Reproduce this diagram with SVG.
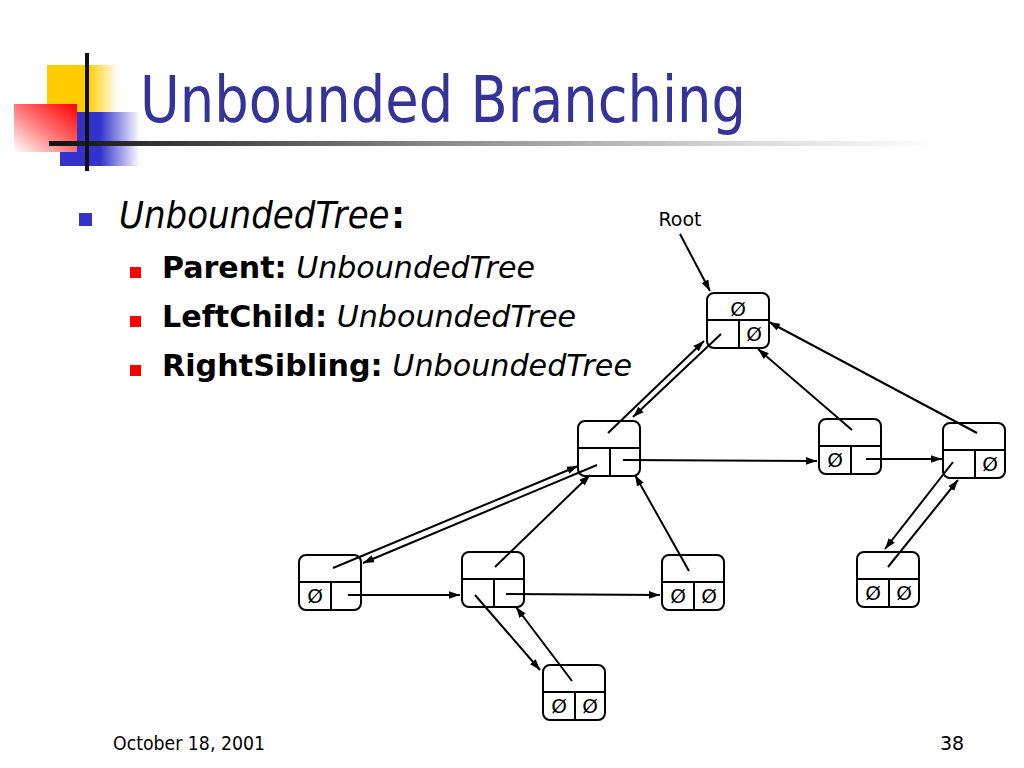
<svg xmlns="http://www.w3.org/2000/svg" width="1024" height="768" viewBox="0 0 1024 768">
<defs>
  <linearGradient id="gY" x1="0" y1="0" x2="1" y2="0">
    <stop offset="0" stop-color="#FFCC00"/>
    <stop offset="0.58" stop-color="#FFCC00"/>
    <stop offset="1" stop-color="#FFCC00" stop-opacity="0"/>
  </linearGradient>
  <linearGradient id="gB" x1="0" y1="0" x2="1" y2="0">
    <stop offset="0" stop-color="#3333CC"/>
    <stop offset="0.5" stop-color="#3333CC"/>
    <stop offset="1" stop-color="#3333CC" stop-opacity="0"/>
  </linearGradient>
  <linearGradient id="gR" x1="1" y1="0" x2="0" y2="1">
    <stop offset="0" stop-color="#FF0000"/>
    <stop offset="0.45" stop-color="#FF6666"/>
    <stop offset="1" stop-color="#FFFFFF"/>
  </linearGradient>
  <linearGradient id="gL" x1="0" y1="0" x2="1" y2="0">
    <stop offset="0" stop-color="#111111"/>
    <stop offset="0.12" stop-color="#333333"/>
    <stop offset="0.5" stop-color="#999999"/>
    <stop offset="0.8" stop-color="#DDDDDD"/>
    <stop offset="1" stop-color="#FFFFFF"/>
  </linearGradient>
  <marker id="arr" viewBox="0 0 10 7" refX="10" refY="3.5" markerWidth="11" markerHeight="8" markerUnits="userSpaceOnUse" orient="auto">
    <path d="M0,0 L10,3.5 L0,7 z" fill="#000"/>
  </marker>
  <g id="nodebox">
    <rect x="0" y="0" width="62" height="55" rx="7" ry="7" class="box"/>
    <line x1="0" y1="27" x2="62" y2="27" class="box"/>
    <line x1="32" y1="27" x2="32" y2="55" class="box"/>
  </g>
</defs>
<style>
  .box { fill: none; stroke: #000; stroke-width: 2; }
  .nul { font-family: "DejaVu Sans", "Liberation Sans", sans-serif; font-size: 20px; fill: #000; text-anchor: middle; }
  .conn line { stroke: #000; stroke-width: 2; marker-end: url(#arr); }
  .title { font-family: "DejaVu Sans", "Liberation Sans", sans-serif; font-size: 64px; fill: #333399; }
  .b1 { font-family: "DejaVu Sans", "Liberation Sans", sans-serif; font-size: 38px; fill: #000; }
  .b2 { font-family: "DejaVu Sans", "Liberation Sans", sans-serif; font-size: 30px; fill: #000; }
  .lab { font-family: "DejaVu Sans", "Liberation Sans", sans-serif; font-size: 19px; fill: #000; }
  .it { font-style: italic; font-weight: normal; }
  .bd { font-weight: bold; font-style: normal; }
</style>
<rect x="0" y="0" width="1024" height="768" fill="#FFFFFF"/>

<!-- Logo and title -->
<g id="logo">
  <rect x="47" y="65" width="71" height="47" fill="url(#gY)"/>
  <rect x="60" y="112" width="80" height="54" fill="url(#gB)"/>
  <rect x="14" y="104" width="63" height="48" fill="url(#gR)"/>
  <rect x="49" y="141" width="891" height="5" fill="url(#gL)"/>
  <rect x="85" y="53" width="4" height="118" fill="#111111"/>
</g>
<text id="title" class="title" x="140" y="122" textLength="606" lengthAdjust="spacingAndGlyphs">Unbounded Branching</text>

<!-- Bullets -->
<g id="bullets">
  <rect x="79" y="213" width="13" height="13" fill="#3333CC"/>
  <text class="b1" x="119" y="228" textLength="286" lengthAdjust="spacingAndGlyphs"><tspan class="it">UnboundedTree</tspan><tspan class="bd" dx="2">:</tspan></text>
  <rect x="130" y="267" width="11" height="11" fill="#FF0000"/>
  <text class="b2" x="162" y="278" textLength="373" lengthAdjust="spacingAndGlyphs"><tspan class="bd">Parent:</tspan> <tspan class="it">UnboundedTree</tspan></text>
  <rect x="130" y="316" width="11" height="11" fill="#FF0000"/>
  <text class="b2" x="162" y="327" textLength="414" lengthAdjust="spacingAndGlyphs"><tspan class="bd">LeftChild:</tspan> <tspan class="it">UnboundedTree</tspan></text>
  <rect x="130" y="365" width="11" height="11" fill="#FF0000"/>
  <text class="b2" x="162" y="376" textLength="470" lengthAdjust="spacingAndGlyphs"><tspan class="bd">RightSibling:</tspan> <tspan class="it">UnboundedTree</tspan></text>
</g>

<text id="rootlabel" class="lab" x="680" y="226" text-anchor="middle">Root</text>

<!-- Nodes -->
<g id="node-root" transform="translate(707,293)">
  <use href="#nodebox"/>
  <text class="nul" x="31" y="23">Ø</text>
  <text class="nul" x="47" y="48">Ø</text>
</g>
<g id="node-a" transform="translate(578,421)">
  <use href="#nodebox"/>
</g>
<g id="node-b" transform="translate(819,419)">
  <use href="#nodebox"/>
  <text class="nul" x="16" y="48">Ø</text>
</g>
<g id="node-c" transform="translate(943,423)">
  <use href="#nodebox"/>
  <text class="nul" x="47" y="48">Ø</text>
</g>
<g id="node-d" transform="translate(857,552)">
  <use href="#nodebox"/>
  <text class="nul" x="16" y="48">Ø</text>
  <text class="nul" x="47" y="48">Ø</text>
</g>
<g id="node-e" transform="translate(299,555)">
  <use href="#nodebox"/>
  <text class="nul" x="16" y="48">Ø</text>
</g>
<g id="node-f" transform="translate(462,552)">
  <use href="#nodebox"/>
</g>
<g id="node-g" transform="translate(662,555)">
  <use href="#nodebox"/>
  <text class="nul" x="16" y="48">Ø</text>
  <text class="nul" x="47" y="48">Ø</text>
</g>
<g id="node-h" transform="translate(543,665)">
  <use href="#nodebox"/>
  <text class="nul" x="16" y="48">Ø</text>
  <text class="nul" x="47" y="48">Ø</text>
</g>

<!-- Connectors -->
<g id="connectors" class="conn">
  <line x1="680" y1="234" x2="710" y2="291"/>
  <line x1="721" y1="334" x2="633" y2="417"/>
  <line x1="608" y1="433" x2="704" y2="341"/>
  <line x1="623" y1="460" x2="817" y2="461"/>
  <line x1="852" y1="430" x2="758" y2="349"/>
  <line x1="977" y1="433" x2="769" y2="322"/>
  <line x1="866" y1="459" x2="942" y2="459"/>
  <line x1="953" y1="462" x2="885" y2="549"/>
  <line x1="888" y1="567" x2="958" y2="480"/>
  <line x1="597" y1="465" x2="363" y2="563"/>
  <line x1="333" y1="568" x2="578" y2="466"/>
  <line x1="495" y1="567" x2="590" y2="475"/>
  <line x1="689" y1="571" x2="635" y2="475"/>
  <line x1="348" y1="595" x2="460" y2="595"/>
  <line x1="506" y1="594" x2="660" y2="595"/>
  <line x1="475" y1="595" x2="540" y2="670"/>
  <line x1="572" y1="681" x2="516" y2="607"/>
</g>

<!-- Footer -->
<text id="footer-date" class="lab" x="113" y="750" textLength="152" lengthAdjust="spacingAndGlyphs">October 18, 2001</text>
<text id="footer-page" class="lab" x="940" y="750">38</text>
</svg>
